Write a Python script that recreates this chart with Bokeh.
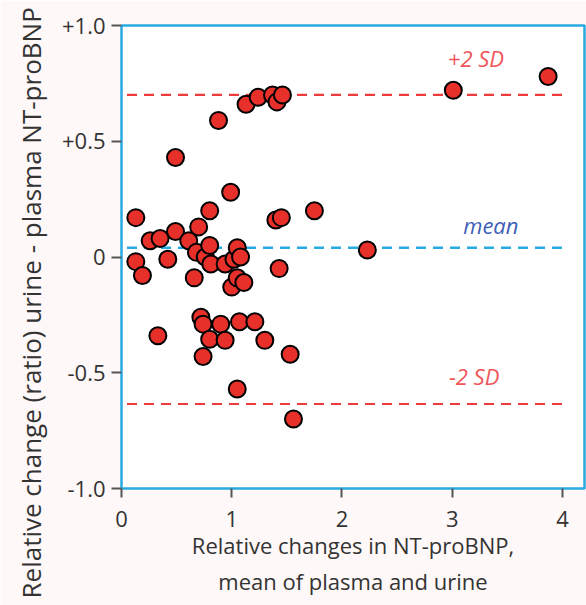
from bokeh.plotting import figure
from bokeh.models import FixedTicker, Range1d, Title
from bokeh.core.properties import value
from bokeh.embed import file_html
from bokeh.resources import INLINE

# ---- data ----
mean_x = [0.13, 0.13, 0.19, 0.26, 0.35, 0.33, 0.42, 0.49, 0.49, 0.61,
          0.66, 0.68, 0.70, 0.72, 0.74, 0.74, 0.76, 0.80, 0.80, 0.81,
          0.80, 0.88, 0.90, 0.94, 0.94, 0.99, 1.00, 1.02, 1.05, 1.08,
          1.05, 1.05, 1.07, 1.11, 1.13, 1.21, 1.24, 1.30, 1.37, 1.41,
          1.46, 1.40, 1.45, 1.43, 1.53, 1.56, 1.75, 2.23, 3.01, 3.87]
diff_y = [0.17, -0.02, -0.08, 0.07, 0.08, -0.34, -0.01, 0.11, 0.43, 0.07,
          -0.09, 0.02, 0.13, -0.26, -0.29, -0.43, 0.00, 0.20, 0.05, -0.03,
          -0.355, 0.59, -0.29, -0.03, -0.36, 0.28, -0.13, -0.01, 0.04, 0.00,
          -0.09, -0.57, -0.28, -0.11, 0.66, -0.28, 0.69, -0.36, 0.70, 0.67,
          0.70, 0.16, 0.17, -0.05, -0.42, -0.70, 0.20, 0.03, 0.72, 0.78]

mean_diff = 0.04
upper_limit = 0.70
lower_limit = -0.635
limit_line_x = [0.05, 4.0]

x_ticks = [0, 1, 2, 3, 4]
y_ticks = [-1.0, -0.5, 0.0, 0.5, 1.0]
y_tick_labels = ["-1.0", "-0.5", "0", "+0.5", "+1.0"]

label_texts = ["+2 SD", "mean", "-2 SD"]
label_x = [2.96, 3.10, 2.97]
label_y = [0.86, 0.14, -0.515]
label_colors = ["#f0555a", "#3f5fb8", "#f0555a"]

y_title = "Relative change (ratio) urine - plasma NT-proBNP"
x_title = "Relative changes in NT-proBNP,\nmean of plasma and urine"

FONT = "Open Sans"
BLUE = "#29abe2"
RED = "#ee3b3b"

p = figure(width=586, height=605, output_backend="svg", toolbar_location=None,
           x_range=Range1d(0, 4.2), y_range=Range1d(-1.0, 1.0),
           min_border_left=120, min_border_right=2, min_border_top=25,
           min_border_bottom=117)
p.border_fill_color = "#fef8f8"
p.background_fill_color = "white"
p.outline_line_color = BLUE
p.outline_line_width = 2.5
p.grid.visible = False

# x axis
p.xaxis.ticker = FixedTicker(ticks=x_ticks)
p.xaxis.axis_line_color = None
p.xaxis.major_tick_line_color = "#555555"
p.xaxis.major_tick_line_width = 2
p.xaxis.major_tick_out = 9
p.xaxis.major_tick_in = 0
p.xaxis.minor_tick_line_color = None
p.xaxis.major_label_text_font = FONT
p.xaxis.major_label_text_font_size = "22px"
p.xaxis.major_label_text_color = "#333333"
p.xaxis.major_label_standoff = 13
p.xaxis.axis_label = x_title
p.xaxis.axis_label_text_font = FONT
p.xaxis.axis_label_text_font_style = "normal"
p.xaxis.axis_label_text_font_size = "22px"
p.xaxis.axis_label_text_color = "#333333"
p.xaxis.axis_label_standoff = 0

# y axis
p.yaxis.ticker = FixedTicker(ticks=y_ticks)
p.yaxis.major_label_overrides = {t: l for t, l in zip(y_ticks, y_tick_labels)}
p.yaxis.axis_line_color = None
p.yaxis.major_tick_line_color = "#555555"
p.yaxis.major_tick_line_width = 2
p.yaxis.major_tick_out = 10
p.yaxis.major_tick_in = 0
p.yaxis.minor_tick_line_color = None
p.yaxis.major_label_text_font = FONT
p.yaxis.major_label_text_font_size = "22px"
p.yaxis.major_label_text_color = "#333333"
p.yaxis.major_label_standoff = 6

# y title as a side-panel title, starting below the frame like the reference
p.add_layout(Title(text=y_title, align="left", offset=-110, standoff=20,
                   text_font=FONT, text_font_size="26px", text_font_style="normal",
                   text_color="#333333"), "left")

# limit lines
p.line(limit_line_x, [upper_limit] * 2, line_color=RED, line_width=2.2, line_dash="10 7")
p.line(limit_line_x, [lower_limit] * 2, line_color=RED, line_width=2.2, line_dash="10 7")
p.line(limit_line_x, [mean_diff] * 2, line_color=BLUE, line_width=2.5, line_dash="10 7")

# points
p.scatter(mean_x, diff_y, size=17, fill_color="#e8302a", line_color="black", line_width=2)

# labels
p.text(x=label_x, y=label_y, text=label_texts, text_color=label_colors,
       text_font=value(FONT), text_font_style="italic", text_font_size="22px",
       text_align="left", text_baseline="middle")

open("out.html", "w").write(file_html(p, INLINE))
